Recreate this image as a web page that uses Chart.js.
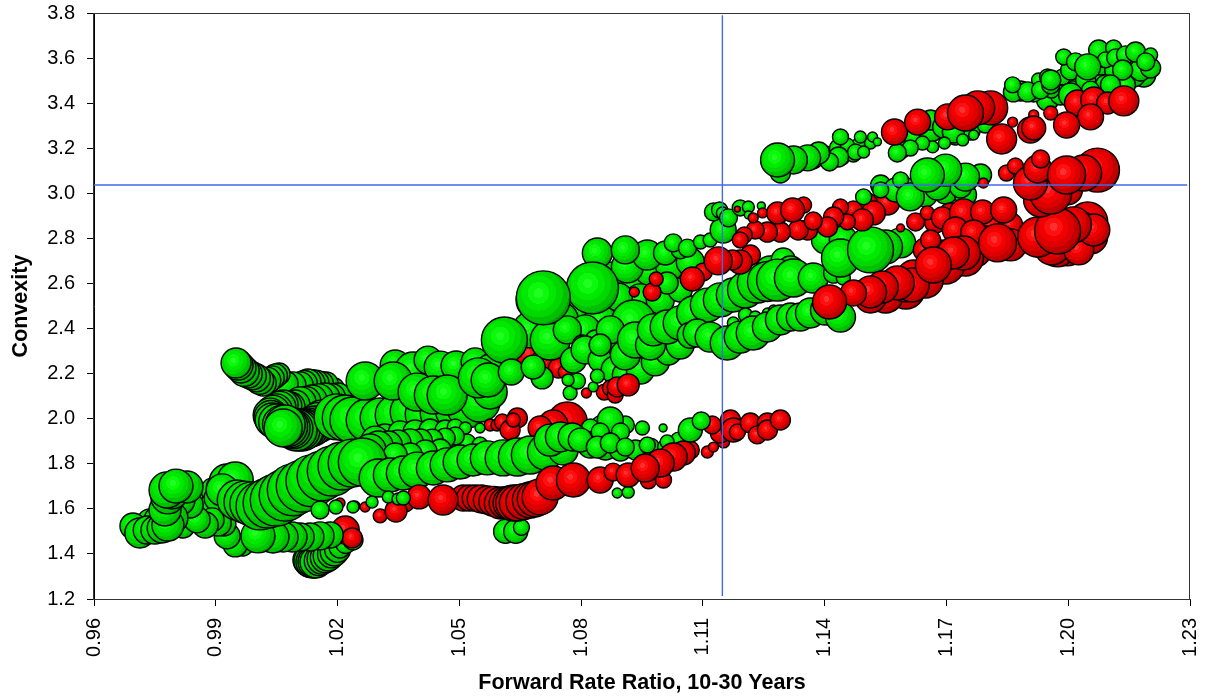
<!DOCTYPE html>
<html>
<head>
<meta charset="utf-8">
<script src="https://cdn.jsdelivr.net/npm/chart.js@4"></script>
<style>
html, body { margin: 0; padding: 0; background: #fff; }
canvas { display: block; }
</style>
</head>
<body>
<canvas id="grafico" width="1205" height="700"></canvas>
<script>
// tick labels
const xTicks = [0.96, 0.99, 1.02, 1.05, 1.08, 1.11, 1.14, 1.17, 1.20, 1.23];
const yTicks = [1.2, 1.4, 1.6, 1.8, 2.0, 2.2, 2.4, 2.6, 2.8, 3.0, 3.2, 3.4, 3.6, 3.8];

// crosshair
const crossX = 1.1148;
const crossY = 3.037;

// each group: x = ratio, y = convexity, r = bubble size. groups are listed back to front
const tailX = [1.0192, 1.0172, 1.016, 1.0147, 1.0137, 1.0127, 1.0118, 1.0108, 1.009, 1.0071, 1.0056, 1.0047, 1.0039, 1.0028, 1.0017, 1.0008, 1.0, 0.999, 0.998, 0.997, 0.9962, 0.9955, 0.995];
const tailY = [2.136, 2.154, 2.156, 2.158, 2.16, 2.163, 2.156, 2.15, 2.15, 2.154, 2.198, 2.19, 2.181, 2.17, 2.158, 2.17, 2.181, 2.19, 2.198, 2.21, 2.225, 2.238, 2.247];
const tailR = [10, 12, 12, 13, 13, 13, 13, 13, 13, 13, 11, 12, 12, 13, 13, 14, 14, 14, 14, 15, 15, 15, 15];

const shelfX = [1.0201, 1.0185, 1.0169, 1.0153, 1.0137, 1.0122, 1.0108, 1.0095, 1.0083, 1.0075, 1.0066, 1.0058, 1.0049, 1.0041, 1.0034, 1.0036, 1.0039, 1.005, 1.0062, 1.0162, 1.0153, 1.0145, 1.0136, 1.0127, 1.012, 1.0113, 1.0105, 1.0098, 1.009, 1.0083, 1.0077, 1.0071, 1.0066];
const shelfY = [2.096, 2.094, 2.092, 2.088, 2.083, 2.076, 2.07, 2.061, 2.052, 2.056, 2.061, 2.05, 2.039, 2.028, 2.016, 2.005, 1.994, 1.985, 1.975, 1.994, 1.983, 1.972, 1.965, 1.959, 1.955, 1.95, 1.95, 1.95, 1.955, 1.959, 1.965, 1.972, 1.959];
const shelfR = [14, 14, 15, 15, 15, 15, 16, 15, 15, 15, 15, 16, 16, 17, 17, 17, 17, 18, 19, 20, 20, 19, 20, 20, 20, 21, 21, 21, 20, 20, 20, 20, 19];

const ridgeX = [1.0342, 1.0386, 1.0423, 1.0453, 1.0492, 1.0539, 1.0576];
const ridgeY = [2.238, 2.216, 2.26, 2.229, 2.234, 2.252, 2.225];
const ridgeR = [15, 18, 14, 16, 15, 14, 14];

const bandX = [1.0199, 1.0219, 1.0238, 1.0273, 1.0305, 1.0342, 1.0379, 1.0416, 1.0453, 1.049, 1.0519, 1.0551, 1.0576];
const bandY = [2.008, 2.003, 1.994, 1.994, 2.003, 2.016, 2.03, 2.021, 2.025, 2.039, 2.047, 2.074, 2.118];
const bandR = [23, 23, 23, 21, 20, 20, 20, 20, 20, 20, 20, 20, 17];

const bigLeftX = [1.0268, 1.0337, 1.0396, 1.0436, 1.047, 1.0547];
const bigLeftY = [2.167, 2.167, 2.118, 2.105, 2.105, 2.181];
const bigLeftR = [19, 19, 19, 19, 20, 20];

const loopX = [1.0127, 1.0132, 1.0137, 1.0142, 1.0147, 1.0155, 1.0162, 1.017, 1.0177, 1.0185, 1.0192, 1.02, 1.0206, 1.022, 1.0238];
const loopY = [1.373, 1.368, 1.364, 1.364, 1.364, 1.37, 1.377, 1.384, 1.391, 1.4, 1.409, 1.42, 1.431, 1.446, 1.462];
const loopR = [15, 16, 16, 16, 16, 15, 15, 15, 15, 14, 14, 13, 11, 10, 10];

const redHookX = [1.0219, 1.0236];
const redHookY = [1.506, 1.471];
const redHookR = [14, 10];

const lowX = [0.9967, 0.9948, 1.0182, 1.0157, 1.0132, 1.0108, 1.0088, 1.0066, 1.0041, 1.0004, 0.9928];
const lowY = [1.435, 1.44, 1.484, 1.48, 1.475, 1.475, 1.475, 1.475, 1.475, 1.48, 1.48];
const lowR = [10, 12, 13, 14, 14, 14, 15, 15, 16, 17, 13];

const leftFillX = [0.9824, 0.9842, 0.9861, 0.9891, 0.9906, 0.9916, 0.9738, 0.9758, 0.9775, 0.98, 0.9819];
const leftFillY = [1.573, 1.551, 1.595, 1.617, 1.648, 1.684, 1.542, 1.551, 1.559, 1.542, 1.524];
const leftFillR = [12, 12, 10, 12, 14, 16, 13, 14, 14, 13, 12];

const leftX = [0.992, 0.9906, 0.9891, 0.9874, 0.9854, 0.9837, 0.9812, 0.9792, 0.9696, 0.9713, 0.9731, 0.975, 0.9768, 0.9782, 0.9775, 0.9782, 0.9792, 0.9829, 0.978, 0.9802];
const leftY = [1.533, 1.537, 1.551, 1.528, 1.551, 1.617, 1.639, 1.559, 1.524, 1.493, 1.506, 1.506, 1.515, 1.528, 1.595, 1.653, 1.675, 1.697, 1.684, 1.701];
const leftR = [12, 13, 12, 13, 13, 13, 15, 16, 13, 15, 14, 14, 15, 16, 16, 17, 17, 16, 18, 17];

const knotX = [0.9881, 0.9893, 0.9911, 0.9928, 0.9948];
const knotY = [1.639, 1.684, 1.692, 1.719, 1.728];
const knotR = [10, 12, 14, 18, 18];

const mainX = [0.9953, 0.9972, 0.9989, 1.0009, 1.0029, 1.0049, 1.0071, 1.0091, 1.0113, 1.0137, 1.0162, 1.0187, 1.0211, 1.0236, 1.0261];
const mainY = [1.639, 1.63, 1.622, 1.613, 1.626, 1.639, 1.661, 1.684, 1.701, 1.724, 1.746, 1.768, 1.79, 1.803, 1.808];
const mainR = [20, 21, 22, 24, 25, 26, 26, 26, 26, 26, 25, 25, 24, 24, 24];

const redTopLowX = [1.0766, 1.0731, 1.0699];
const redTopLowY = [1.985, 1.972, 1.959];
const redTopLowR = [20, 15, 12];

const upFillX = [1.0317, 1.0354, 1.0391, 1.0428, 1.0465, 1.049, 1.0293, 1.0404, 1.0446, 1.0483, 1.0519, 1.0551];
const upFillY = [1.919, 1.937, 1.941, 1.95, 1.95, 1.963, 1.905, 1.883, 1.883, 1.883, 1.892, 1.883];
const upFillR = [13, 12, 12, 11, 10, 8, 14, 13, 12, 11, 9, 8];

const smallUpX = [1.0515, 1.049, 1.0465, 1.0433, 1.0404, 1.0379, 1.0349, 1.0325, 1.03, 1.028, 1.0453, 1.0416, 1.0379, 1.0342, 1.03];
const smallUpY = [1.959, 1.923, 1.914, 1.905, 1.901, 1.897, 1.892, 1.883, 1.879, 1.861, 1.861, 1.852, 1.839, 1.839, 1.808];
const smallUpR = [6, 9, 10, 11, 12, 13, 13, 14, 15, 16, 11, 12, 12, 12, 10];

const redClusterX = [1.0576, 1.0593, 1.0606, 1.0643, 1.0625, 1.0633];
const redClusterY = [1.972, 1.972, 1.985, 2.003, 1.95, 1.994];
const redClusterR = [6, 6, 8, 10, 10, 7];

const dotX = [1.0551, 1.0951, 1.0909, 1.0847, 1.0823, 1.0872];
const dotY = [1.959, 1.959, 1.972, 1.972, 1.959, 1.994];
const dotR = [5, 7, 9, 9, 9, 13];

const secondFillX = [1.0823, 1.086, 1.0897, 1.0934, 1.0971, 1.1008, 1.104, 1.0897, 1.0847];
const secondFillY = [1.883, 1.87, 1.861, 1.861, 1.874, 1.874, 1.905, 1.941, 1.941];
const secondFillR = [13, 12, 11, 10, 9, 8, 8, 9, 9];

const secondX = [1.03, 1.033, 1.0362, 1.0396, 1.0436, 1.047, 1.0502, 1.0534, 1.0569, 1.0608, 1.0643, 1.0675, 1.0712, 1.0756, 1.0724, 1.0749, 1.0778, 1.0798, 1.084, 1.0872, 1.0909, 1.0963, 1.1012];
const secondY = [1.737, 1.75, 1.759, 1.772, 1.781, 1.795, 1.808, 1.817, 1.826, 1.826, 1.83, 1.839, 1.852, 1.861, 1.905, 1.919, 1.919, 1.905, 1.874, 1.892, 1.874, 1.883, 1.897];
const secondR = [19, 17, 17, 18, 17, 17, 17, 16, 17, 18, 19, 19, 18, 15, 16, 15, 14, 12, 11, 10, 9, 8, 7];

const underX = [1.0614, 1.0639, 1.0653, 1.0916, 1.0889];
const underY = [1.5, 1.5, 1.518, 1.674, 1.67];
const underR = [12, 12, 8, 6, 5];

const redBandX = [1.0342, 1.0367, 1.051, 1.0525, 1.0539, 1.0554, 1.0569, 1.0585, 1.0601, 1.0613, 1.0625, 1.0634, 1.0643, 1.0659, 1.0675, 1.0687, 1.0699, 1.0731, 1.0781, 1.0847, 1.0879, 1.0916, 1.0966, 1.1003, 1.1069, 1.1052, 1.1027, 1.0995, 1.0958, 1.0401, 1.046];
const redBandY = [1.617, 1.626, 1.648, 1.648, 1.648, 1.644, 1.639, 1.633, 1.626, 1.626, 1.626, 1.626, 1.626, 1.632, 1.639, 1.645, 1.653, 1.715, 1.728, 1.728, 1.763, 1.75, 1.724, 1.728, 1.861, 1.848, 1.83, 1.803, 1.781, 1.653, 1.639];
const redBandR = [8, 9, 13, 13, 13, 14, 14, 15, 16, 16, 17, 18, 18, 18, 18, 18, 18, 17, 17, 13, 9, 12, 8, 8, 9, 12, 14, 14, 14, 12, 15];

const tinyLeftX = [1.0206, 1.0243, 1.0268, 1.0305, 1.0344];
const tinyLeftY = [1.626, 1.613, 1.608, 1.569, 1.59];
const tinyLeftR = [5, 5, 5, 7, 11];

const tinyGreenX = [1.0157, 1.0196, 1.0238, 1.0285, 1.0325, 1.0349, 1.0362];
const tinyGreenY = [1.595, 1.608, 1.608, 1.63, 1.653, 1.644, 1.648];
const tinyGreenR = [9, 7, 6, 6, 6, 6, 7];

const redEndX = [1.1111, 1.1126, 1.1151, 1.1143, 1.1123, 1.1168, 1.1175, 1.1185, 1.1217, 1.1259, 1.1234, 1.1259, 1.1291];
const redEndY = [1.852, 1.874, 1.897, 1.937, 1.972, 1.994, 1.95, 1.941, 1.981, 1.981, 1.928, 1.95, 1.994];
const redEndR = [6, 5, 6, 10, 9, 10, 12, 8, 10, 10, 9, 10, 10];

const greenEndX = [1.1002, 1.1069, 1.1096];
const greenEndY = [1.959, 1.95, 1.99];
const greenEndR = [4, 12, 9];

const redPatchX = [1.0675, 1.0712, 1.0744, 1.0761];
const redPatchY = [2.283, 2.252, 2.225, 2.207];
const redPatchR = [16, 14, 10, 7];

const massFillX = [1.0872, 1.0921, 1.0971, 1.102, 1.1069, 1.0946, 1.0995, 1.1044, 1.0872, 1.0786, 1.0749, 1.0847, 1.0699, 1.081, 1.0675];
const massFillY = [2.615, 2.593, 2.66, 2.682, 2.695, 2.527, 2.527, 2.571, 2.482, 2.482, 2.438, 2.438, 2.394, 2.394, 2.394];
const massFillR = [18, 17, 16, 15, 14, 16, 14, 12, 15, 18, 18, 16, 18, 15, 18];

const massX = [1.084, 1.0914, 1.0963, 1.0909, 1.1008, 1.1044, 1.1027, 1.1062, 1.1094, 1.1118, 1.115, 1.1012, 1.0892, 1.0689, 1.0724, 1.0766, 1.0781, 1.0835, 1.0803, 1.0872, 1.0865, 1.0904, 1.0916, 1.0939, 1.0971, 1.0929];
const massY = [2.735, 2.673, 2.726, 2.749, 2.735, 2.749, 2.78, 2.757, 2.784, 2.793, 2.837, 2.602, 2.54, 2.527, 2.349, 2.394, 2.26, 2.349, 2.327, 2.314, 2.247, 2.318, 2.274, 2.26, 2.283, 2.429];
const massR = [15, 16, 15, 14, 12, 9, 9, 9, 7, 7, 13, 11, 14, 20, 20, 14, 13, 10, 10, 9, 10, 16, 15, 13, 12, 22];

const midFillX = [1.081, 1.0847, 1.0884, 1.0909, 1.0946, 1.0983, 1.0909, 1.0872, 1.0847, 1.1015, 1.1044, 1.0934, 1.0971];
const midFillY = [2.305, 2.26, 2.216, 2.194, 2.216, 2.252, 2.283, 2.394, 2.327, 2.296, 2.327, 2.349, 2.327];
const midFillR = [14, 12, 14, 13, 14, 14, 15, 14, 11, 13, 14, 18, 15];

const frontBigX = [1.0571, 1.0704, 1.0828, 1.0707, 1.0611, 1.0628, 1.0682];
const frontBigY = [2.172, 2.181, 2.58, 2.536, 2.349, 2.207, 2.229];
const frontBigR = [17, 11, 26, 27, 23, 13, 12];

const smallMidX = [1.0773, 1.0791, 1.083, 1.084, 1.0768];
const smallMidY = [2.114, 2.167, 2.141, 2.189, 2.172];
const smallMidR = [7, 8, 5, 7, 6];

const redMidX = [1.0813, 1.0857, 1.0872, 1.0884, 1.0889, 1.0916];
const redMidY = [2.114, 2.118, 2.136, 2.105, 2.141, 2.15];
const redMidR = [5, 8, 8, 8, 10, 11];

const rowBackX = [1.1266, 1.1298, 1.1316];
const rowBackY = [2.651, 2.704, 2.66];
const rowBackR = [16, 12, 14];

const rowTopX = [1.0978, 1.1012, 1.1044, 1.1077, 1.1111, 1.1143, 1.1175, 1.1205, 1.1234, 1.1259, 1.1284, 1.1323, 1.1372, 1.1422, 1.1446];
const rowTopY = [2.394, 2.407, 2.425, 2.469, 2.504, 2.527, 2.549, 2.571, 2.602, 2.609, 2.615, 2.624, 2.624, 2.646, 2.624];
const rowTopR = [16, 17, 17, 17, 17, 17, 17, 18, 20, 20, 21, 19, 15, 10, 7];

const ringMidX = [1.1205, 1.1229, 1.1259, 1.1175, 1.1274];
const ringMidY = [2.46, 2.451, 2.469, 2.425, 2.482];
const ringMidR = [7, 6, 5, 6, 5];

const rowLowX = [1.1069, 1.1086, 1.1118, 1.116, 1.1192, 1.1224, 1.1259, 1.1291, 1.1316, 1.134, 1.1365, 1.1402, 1.1439];
const rowLowY = [2.37, 2.38, 2.362, 2.336, 2.362, 2.38, 2.407, 2.438, 2.451, 2.451, 2.469, 2.482, 2.451];
const rowLowR = [13, 14, 15, 17, 16, 17, 15, 15, 14, 14, 15, 15, 15];

const redUpX = [1.1217, 1.1192, 1.1173, 1.1101, 1.1138, 1.1074, 1.0931, 1.0975, 1.0985];
const redUpY = [2.726, 2.695, 2.704, 2.651, 2.7, 2.62, 2.562, 2.562, 2.62];
const redUpR = [10, 12, 10, 9, 14, 12, 5, 9, 7];

const hillX = [1.1402, 1.1446, 1.1439, 1.1587, 1.155, 1.1513];
const hillY = [2.793, 2.793, 2.713, 2.78, 2.762, 2.749];
const hillR = [14, 14, 19, 15, 17, 23];

const ringX = [1.1126, 1.1141, 1.1148, 1.1163, 1.1192, 1.1212, 1.1244, 1.1212];
const ringY = [2.917, 2.926, 2.913, 2.891, 2.935, 2.939, 2.944, 2.904];
const ringR = [9, 8, 6, 9, 8, 6, 4, 4];

const redChainX = [1.1185, 1.1555, 1.1505, 1.152, 1.1471, 1.1439, 1.1493, 1.1456, 1.1422, 1.1407, 1.1348, 1.1358, 1.1335, 1.1291, 1.1259, 1.1229, 1.1202, 1.1192, 1.1247, 1.1224, 1.1284, 1.1372, 1.1321];
const redChainY = [2.93, 2.957, 2.957, 2.913, 2.926, 2.939, 2.882, 2.873, 2.895, 2.851, 2.948, 2.837, 2.837, 2.828, 2.828, 2.837, 2.815, 2.793, 2.913, 2.891, 2.913, 2.877, 2.926];
const redChainR = [3, 12, 10, 12, 9, 8, 11, 8, 10, 10, 8, 10, 10, 10, 10, 9, 8, 8, 5, 5, 11, 9, 12];

const bluffFillX = [1.1538, 1.1575, 1.1624, 1.1648, 1.1698, 1.1747];
const bluffFillY = [3.037, 3.015, 3.015, 2.993, 3.006, 2.993];
const bluffFillR = [10, 12, 13, 12, 12, 11];

const bluffX = [1.1496, 1.1538, 1.1587, 1.1611, 1.1735, 1.1784, 1.1678, 1.1747, 1.1698, 1.1653];
const bluffY = [2.984, 3.015, 3.059, 2.984, 3.028, 3.081, 3.028, 3.072, 3.103, 3.081];
const bluffR = [8, 8, 8, 14, 11, 11, 13, 14, 16, 17];

const redFillX = [1.1673, 1.171, 1.1772, 1.1809, 1.1858, 1.1735, 1.1796, 1.1858, 1.1772, 1.1685, 1.1648, 1.1747, 1.1698, 1.1648, 1.16, 1.155, 1.1513];
const redFillY = [2.873, 2.904, 2.891, 2.86, 2.86, 2.793, 2.793, 2.771, 2.74, 2.726, 2.749, 2.713, 2.682, 2.615, 2.571, 2.549, 2.54];
const redFillR = [11, 12, 13, 14, 12, 13, 14, 16, 15, 15, 12, 18, 19, 18, 19, 18, 16];

const redLowX = [1.1587, 1.1624, 1.1653, 1.169, 1.1742, 1.1789, 1.1841, 1.1998, 1.2055, 1.2048, 1.2023, 1.1661, 1.1722, 1.1767, 1.1742, 1.1717, 1.1937, 1.1974, 1.196, 1.2026, 1.2063, 1.2013, 1.16, 1.1619, 1.1616, 1.1579, 1.1542, 1.1513, 1.1471, 1.1412, 1.1826, 1.1925, 1.1974, 1.1668];
const redLowY = [2.846, 2.873, 2.913, 2.891, 2.913, 2.917, 2.926, 2.749, 2.806, 2.873, 2.837, 2.793, 2.837, 2.824, 2.735, 2.735, 2.793, 2.749, 2.762, 2.749, 2.837, 2.86, 2.593, 2.629, 2.593, 2.602, 2.584, 2.562, 2.558, 2.518, 2.78, 2.806, 2.833, 2.682];
const redLowR = [4, 9, 7, 11, 14, 12, 13, 16, 17, 20, 20, 10, 13, 13, 17, 16, 18, 17, 18, 15, 16, 18, 17, 17, 17, 17, 16, 16, 13, 17, 19, 20, 23, 18];

const redHighX = [1.1791, 1.1848, 1.187, 1.1998, 1.1932, 1.1957, 1.1907, 1.1925, 1.1932, 1.2072, 1.2038, 1.1996];
const redHighY = [3.046, 3.09, 3.121, 3.015, 2.97, 3.001, 3.046, 3.108, 3.152, 3.103, 3.09, 3.081];
const redHighR = [5, 8, 8, 15, 17, 21, 17, 14, 9, 22, 18, 19];

const sprigFillX = [1.1402, 1.1434, 1.1459, 1.1483, 1.1513, 1.1444, 1.1471, 1.137];
const sprigFillY = [3.17, 3.201, 3.201, 3.214, 3.223, 3.157, 3.17, 3.157];
const sprigFillR = [9, 9, 8, 7, 6, 7, 7, 11];

const sprigX = [1.1518, 1.153, 1.1488, 1.1456, 1.1476, 1.1439, 1.1434, 1.1412, 1.1385, 1.1358, 1.1323, 1.1291, 1.1496, 1.1284];
const sprigY = [3.25, 3.228, 3.25, 3.214, 3.183, 3.25, 3.161, 3.139, 3.179, 3.157, 3.148, 3.09, 3.183, 3.148];
const sprigR = [5, 4, 6, 7, 8, 8, 10, 9, 11, 13, 14, 10, 6, 17];

const stepFillX = [1.1587, 1.1624, 1.1661, 1.1698, 1.1722, 1.1759, 1.1796];
const stepFillY = [3.192, 3.259, 3.281, 3.303, 3.259, 3.281, 3.303];
const stepFillR = [9, 12, 12, 12, 10, 10, 8];

const stepX = [1.1661, 1.1693, 1.1717, 1.1767, 1.174, 1.1695, 1.1666, 1.1641, 1.1611, 1.1579];
const stepY = [3.325, 3.294, 3.272, 3.259, 3.237, 3.223, 3.206, 3.223, 3.201, 3.179];
const stepR = [10, 11, 11, 5, 6, 6, 6, 7, 8, 9];

const topBackX = [1.2186, 1.2161, 1.2129, 1.208, 1.203, 1.1949, 1.1981, 1.2043, 1.1883, 1.1915, 1.1927, 1.1949, 1.1959, 1.1986, 1.2011];
const topBackY = [3.525, 3.525, 3.503, 3.512, 3.525, 3.414, 3.436, 3.436, 3.454, 3.445, 3.503, 3.516, 3.458, 3.516, 3.481];
const topBackR = [12, 12, 10, 10, 10, 11, 10, 9, 10, 9, 7, 8, 8, 8, 4];

const topFillX = [1.2018, 1.1865, 1.19, 1.1932, 1.1863, 1.1957, 1.1957, 1.2006, 1.2043, 1.208, 1.2117, 1.2154, 1.2178, 1.2203, 1.2092, 1.2141, 1.2055, 1.2006];
const topFillY = [3.414, 3.45, 3.45, 3.458, 3.481, 3.481, 3.503, 3.547, 3.503, 3.569, 3.547, 3.569, 3.547, 3.556, 3.481, 3.481, 3.458, 3.436];
const topFillR = [12, 10, 10, 9, 8, 9, 10, 10, 10, 10, 11, 10, 11, 10, 10, 10, 9, 12];

const topFrontX = [1.2075, 1.2112, 1.1989, 1.2018, 1.2092, 1.2117, 1.2141, 1.2166, 1.2203, 1.2191, 1.2134, 1.2104, 1.2048];
const topFrontY = [3.636, 3.645, 3.605, 3.583, 3.592, 3.601, 3.614, 3.627, 3.614, 3.583, 3.547, 3.481, 3.561];
const topFrontR = [10, 8, 8, 9, 8, 9, 9, 10, 7, 9, 10, 10, 13];

const redTopX = [1.1809, 1.1777, 1.1703, 1.1747, 1.1572, 1.1629, 1.1836, 1.1863, 1.1915, 1.1957, 1.2023, 1.2063, 1.2097, 1.1907, 1.1915, 1.2055, 1.1996, 1.2137];
const redTopY = [3.379, 3.379, 3.339, 3.356, 3.272, 3.316, 3.241, 3.316, 3.348, 3.356, 3.401, 3.414, 3.401, 3.281, 3.29, 3.339, 3.303, 3.41];
const redTopR = [17, 17, 13, 18, 13, 13, 15, 5, 5, 7, 13, 13, 11, 13, 12, 13, 13, 15];

const GREEN = 'green';
const RED = 'red';

// back to front
const grupos = [
    [tailX, tailY, tailR, GREEN],
    [redTopLowX, redTopLowY, redTopLowR, RED],
    [shelfX, shelfY, shelfR, GREEN],
    [ridgeX, ridgeY, ridgeR, GREEN],
    [bandX, bandY, bandR, GREEN],
    [bigLeftX, bigLeftY, bigLeftR, GREEN],
    [loopX, loopY, loopR, GREEN],
    [redHookX, redHookY, redHookR, RED],
    [lowX, lowY, lowR, GREEN],
    [knotX, knotY, knotR, GREEN],
    [leftFillX, leftFillY, leftFillR, GREEN],
    [leftX, leftY, leftR, GREEN],
    [upFillX, upFillY, upFillR, GREEN],
    [smallUpX, smallUpY, smallUpR, GREEN],
    [mainX, mainY, mainR, GREEN],
    [redClusterX, redClusterY, redClusterR, RED],
    [dotX, dotY, dotR, GREEN],
    [secondFillX, secondFillY, secondFillR, GREEN],
    [secondX, secondY, secondR, GREEN],
    [underX, underY, underR, GREEN],
    [redBandX, redBandY, redBandR, RED],
    [tinyLeftX, tinyLeftY, tinyLeftR, RED],
    [tinyGreenX, tinyGreenY, tinyGreenR, GREEN],
    [redEndX, redEndY, redEndR, RED],
    [greenEndX, greenEndY, greenEndR, GREEN],
    [redPatchX, redPatchY, redPatchR, RED],
    [massFillX, massFillY, massFillR, GREEN],
    [massX, massY, massR, GREEN],
    [midFillX, midFillY, midFillR, GREEN],
    [frontBigX, frontBigY, frontBigR, GREEN],
    [redMidX, redMidY, redMidR, RED],
    [smallMidX, smallMidY, smallMidR, GREEN],
    [rowBackX, rowBackY, rowBackR, GREEN],
    [rowTopX, rowTopY, rowTopR, GREEN],
    [ringMidX, ringMidY, ringMidR, GREEN],
    [rowLowX, rowLowY, rowLowR, GREEN],
    [redUpX, redUpY, redUpR, RED],
    [hillX, hillY, hillR, GREEN],
    [ringX, ringY, ringR, GREEN],
    [redChainX, redChainY, redChainR, RED],
    [bluffFillX, bluffFillY, bluffFillR, GREEN],
    [bluffX, bluffY, bluffR, GREEN],
    [redFillX, redFillY, redFillR, RED],
    [redLowX, redLowY, redLowR, RED],
    [redHighX, redHighY, redHighR, RED],
    [sprigFillX, sprigFillY, sprigFillR, GREEN],
    [sprigX, sprigY, sprigR, GREEN],
    [stepFillX, stepFillY, stepFillR, GREEN],
    [stepX, stepY, stepR, GREEN],
    [topBackX, topBackY, topBackR, GREEN],
    [topFillX, topFillY, topFillR, GREEN],
    [topFrontX, topFrontY, topFrontR, GREEN],
    [redTopX, redTopY, redTopR, RED]
];

// banded shading of the balls, light middle to dark rim
const bandas = {
    green: ['#22ff22', '#0cf80c', '#00ea00', '#00d800', '#00c000', '#00a000'],
    red: ['#ff3030', '#ff1010', '#f00000', '#dc0000', '#c00000', '#a00000']
};
const cortes = [0, 0.14, 0.32, 0.52, 0.72, 0.9, 1];

function relleno(ctx, color) {
    if (!ctx.raw) return color;
    const px = ctx.chart.scales.x.getPixelForValue(ctx.raw.x);
    const py = ctx.chart.scales.y.getPixelForValue(ctx.raw.y);
    // options are also read once before the layout is done
    if (!isFinite(px) || !isFinite(py)) return color;
    const r = ctx.raw.r;
    const g = ctx.chart.ctx.createRadialGradient(px - r * 0.18, py - r * 0.18, 0, px - r * 0.18, py - r * 0.18, r * 1.25);
    bandas[color].forEach((col, i) => {
        g.addColorStop(cortes[i], col);
        g.addColorStop(cortes[i + 1], col);
    });
    return g;
}

const burbujas = grupos.map((g, i) => ({
    type: 'bubble',
    data: g[0].map((x, j) => ({ x: x, y: g[1][j], r: g[2][j] })),
    backgroundColor: ctx => relleno(ctx, g[3]),
    borderColor: '#000',
    borderWidth: 1.4,
    order: grupos.length - i + 2
}));

const lineaAzul = {
    type: 'scatter',
    showLine: true,
    borderColor: '#3f6be8',
    borderWidth: 1.4,
    pointRadius: 0,
    fill: false,
    order: 1
};

const marco = {
    id: 'marco',
    afterDraw(chart) {
        const a = chart.chartArea;
        const c = chart.ctx;
        c.save();
        c.strokeStyle = '#333';
        c.lineWidth = 1;
        c.strokeRect(a.left - 0.5, a.top + 0.5, a.right - a.left, a.bottom - a.top);
        c.restore();
    }
};

new Chart(document.getElementById('grafico').getContext('2d'), {
    type: 'bubble',
    data: {
        datasets: burbujas.concat([
            Object.assign({}, lineaAzul, { data: [{ x: crossX, y: 1.213 }, { x: crossX, y: 3.79 }] }),
            Object.assign({}, lineaAzul, { data: [{ x: 0.96, y: crossY }, { x: 1.2293, y: crossY }] })
        ])
    },
    plugins: [marco],
    options: {
        responsive: false,
        animation: false,
        events: [],
        layout: { autoPadding: false, padding: { top: 13, right: 15, left: 0, bottom: 0 } },
        plugins: { legend: { display: false }, tooltip: { enabled: false } },
        scales: {
            x: {
                type: 'linear',
                min: 0.96,
                max: 1.23,
                afterBuildTicks: axis => { axis.ticks = xTicks.map(v => ({ value: v })); },
                afterFit: axis => { axis.height = 101; axis.paddingLeft = 0; axis.paddingRight = 0; },
                grid: { drawOnChartArea: false, color: '#000', tickLength: 7 },
                border: { color: '#333' },
                ticks: {
                    color: '#000',
                    font: { family: '"Liberation Sans"', size: 20 },
                    minRotation: 90,
                    maxRotation: 90,
                    padding: 12,
                    callback: v => v.toFixed(2)
                },
                title: {
                    display: true,
                    text: 'Forward Rate Ratio, 10-30 Years',
                    color: '#000',
                    font: { family: '"Liberation Sans"', size: 21.5, weight: 'bold' },
                    padding: { top: 0, bottom: 4 }
                }
            },
            y: {
                type: 'linear',
                min: 1.2,
                max: 3.8,
                afterBuildTicks: axis => { axis.ticks = yTicks.map(v => ({ value: v })); },
                afterFit: axis => { axis.width = 94; axis.paddingTop = 0; axis.paddingBottom = 0; },
                grid: { drawOnChartArea: false, color: '#000', tickLength: 7 },
                border: { color: '#000' },
                ticks: {
                    color: '#000',
                    font: { family: '"Liberation Sans"', size: 20 },
                    padding: 12,
                    callback: v => v.toFixed(1)
                },
                title: {
                    display: true,
                    text: 'Convexity',
                    color: '#000',
                    font: { family: '"Liberation Sans"', size: 21.5, weight: 'bold' },
                    padding: { top: 8, bottom: 0 }
                }
            }
        }
    }
});
</script>
</body>
</html>
